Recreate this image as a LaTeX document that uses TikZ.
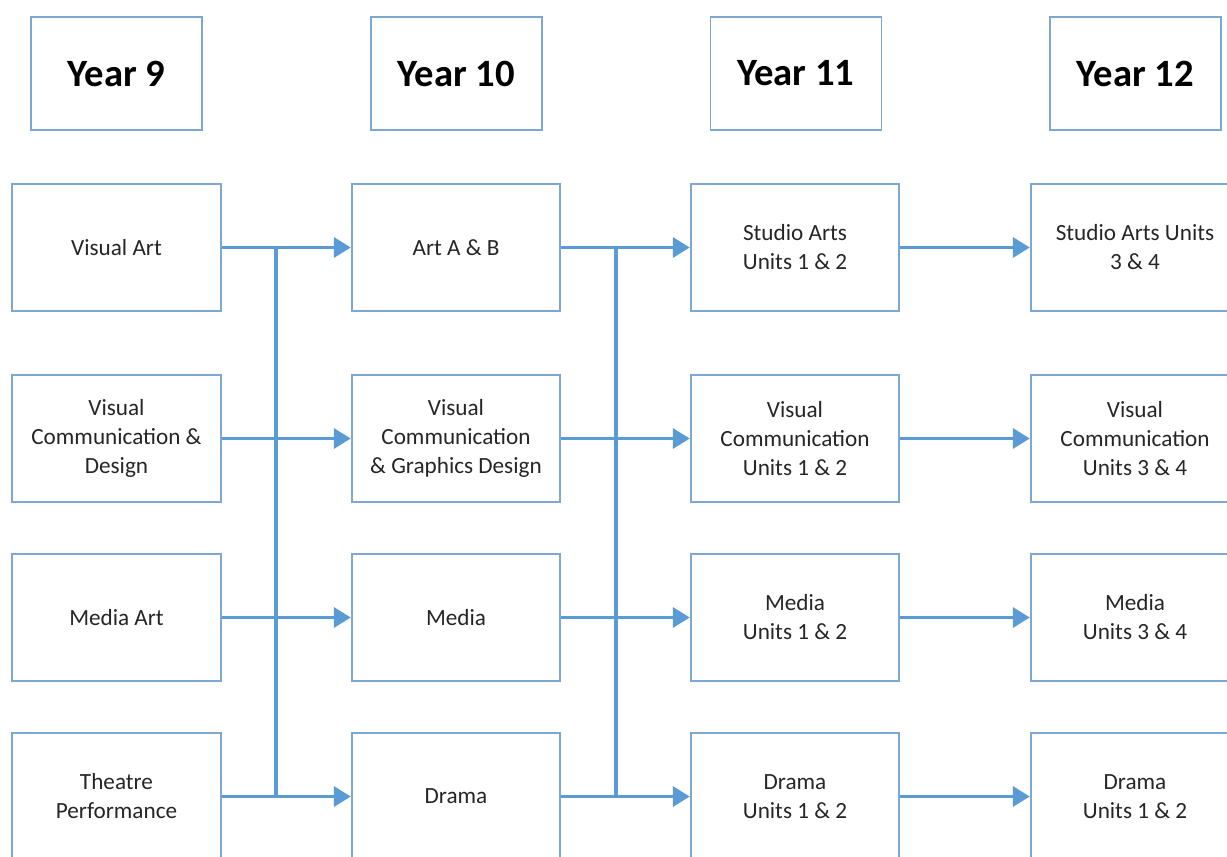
\documentclass[tikz,border=0pt]{standalone}
\usepackage{fontspec}
\setmainfont{Carlito}
\usetikzlibrary{arrows.meta, positioning}
\definecolor{lineblue}{RGB}{91,155,213}
\definecolor{boxblue}{RGB}{125,168,212}

\begin{document}
\begin{tikzpicture}[x=0.02cm, y=-0.02cm,
    yearbox/.style={draw=boxblue, line width=1.1pt, minimum width=3.42cm, minimum height=2.26cm,
        font=\fontsize{22}{27}\selectfont\bfseries},
    coursebox/.style={draw=boxblue, line width=1.1pt, minimum width=4.17cm, minimum height=2.54cm,
        align=center, text=black!85, font=\fontsize{13.2}{16.5}\selectfont},
    link/.style={draw=lineblue, line width=1.9pt},
    arrowlink/.style={link, -{Triangle[width=0.4cm, length=0.34cm]}}]
        % Page
        \useasboundingbox (0,0) rectangle (1227,856);
        \clip (0,0) rectangle (1227,856);
        \fill[white] (0,0) rectangle (1227,856);

        % Year headings
        \node[yearbox] (y9)  at (116.5,73.5)  {Year 9};
        \node[yearbox] (y10) at (456.5,73.5)  {Year 10};
        \node[yearbox] (y11) at (796,73.5)    {Year 11};
        \node[yearbox] (y12) at (1135.5,73.5) {Year 12};

        % Year 9
        \node[coursebox] (visart)   at (116.5,247.5) {Visual Art};
        \node[coursebox] (viscomm)  at (116.5,438.5) {Visual\\Communication \&\\Design};
        \node[coursebox] (mediaart) at (116.5,617.5) {Media Art};
        \node[coursebox] (theatre)  at (116.5,796.5) {Theatre\\Performance};

        % Year 10
        \node[coursebox] (artab)    at (456,247.5) {Art A \& B};
        \node[coursebox] (vcgd)     at (456,438.5) {Visual\\Communication\\\& Graphics Design};
        \node[coursebox] (media)    at (456,617.5) {Media};
        \node[coursebox] (drama)    at (456,796.5) {Drama};

        % Year 11
        \node[coursebox] (studio12) at (795,247.5) {Studio Arts\\Units 1 \& 2};
        \node[coursebox] (vc12)     at (795,438.5) {Visual\\Communication\\Units 1 \& 2};
        \node[coursebox] (media12)  at (795,617.5) {Media\\Units 1 \& 2};
        \node[coursebox] (drama12)  at (795,796.5) {Drama\\Units 1 \& 2};

        % Year 12
        \node[coursebox] (studio34) at (1135,247.5) {Studio Arts Units\\3 \& 4};
        \node[coursebox] (vc34)     at (1135,438.5) {Visual\\Communication\\Units 3 \& 4};
        \node[coursebox] (media34)  at (1135,617.5) {Media\\Units 3 \& 4};
        \node[coursebox] (drama34)  at (1135,796.5) {Drama\\Units 1 \& 2};

        % Bus lines
        \coordinate (busAtop) at (276,247.5);
        \coordinate (busAbot) at (276,796.5);
        \coordinate (busBtop) at (616,247.5);
        \coordinate (busBbot) at (616,796.5);
        \draw[link] (busAtop) -- (busAbot);
        \draw[link] (busBtop) -- (busBbot);

        % Year 9 to Year 10
        \draw[arrowlink] (visart.east) -- (artab.west);
        \draw[arrowlink] (viscomm.east) -- (vcgd.west);
        \draw[arrowlink] (mediaart.east) -- (media.west);
        \draw[arrowlink] (theatre.east) -- (drama.west);

        % Year 10 to Year 11
        \draw[arrowlink] (artab.east) -- (studio12.west);
        \draw[arrowlink] (vcgd.east) -- (vc12.west);
        \draw[arrowlink] (media.east) -- (media12.west);
        \draw[arrowlink] (drama.east) -- (drama12.west);

        % Year 11 to Year 12
        \draw[arrowlink] (studio12.east) -- (studio34.west);
        \draw[arrowlink] (vc12.east) -- (vc34.west);
        \draw[arrowlink] (media12.east) -- (media34.west);
        \draw[arrowlink] (drama12.east) -- (drama34.west);
    \end{tikzpicture}
\end{document}
